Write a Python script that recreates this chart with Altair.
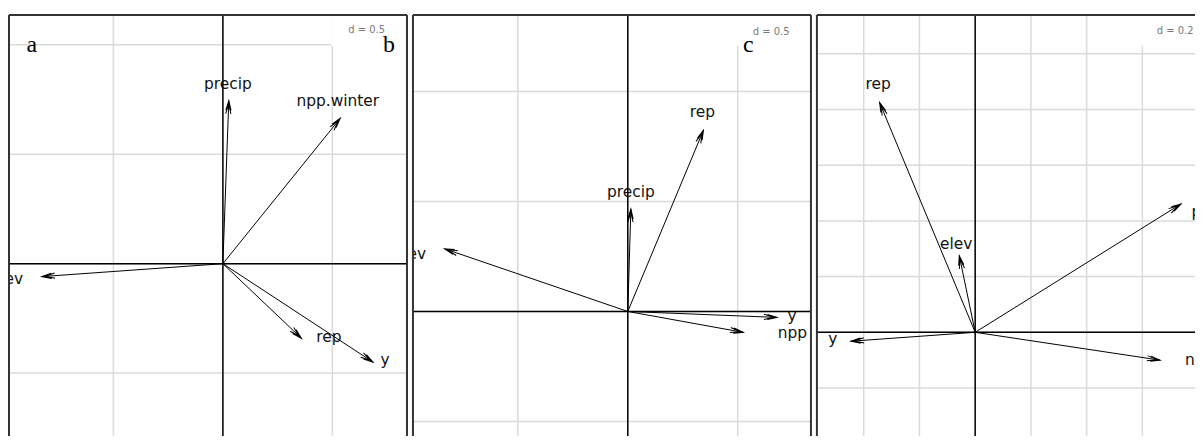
import numpy as np
import pandas as pd
import altair as alt

# ---------------- data ----------------
# Panel a
a_vars = ["precip", "npp.winter", "elev", "rep", "y"]
a_x = [0.027, 0.536, -0.827, 0.359, 0.686]
a_y = [0.745, 0.664, -0.059, -0.341, -0.450]
a_lx = [0.023, 0.525, -0.986, 0.484, 0.741]
a_ly = [0.823, 0.741, -0.068, -0.336, -0.441]

# Panel b
b_vars = ["rep", "precip", "elev", "y", "npp"]
b_x = [0.344, 0.014, -0.833, 0.679, 0.525]
b_y = [0.824, 0.466, 0.285, -0.027, -0.095]
b_lx = [0.339, 0.014, -0.991, 0.747, 0.749]
b_ly = [0.909, 0.543, 0.262, -0.023, -0.100]

# Panel c
c_vars = ["rep", "elev", "precip", "y", "npp"]
c_x = [-0.343, -0.057, 0.739, -0.446, 0.664]
c_y = [0.825, 0.275, 0.461, -0.032, -0.100]
c_lx = [-0.348, -0.068, 0.862, -0.511, 0.806]
c_ly = [0.893, 0.318, 0.432, -0.025, -0.100]

# grid scale labels
d_labels = ["d = 0.5", "d = 0.5", "d = 0.2"]
grid_x = [[-0.5, 0.0, 0.5], [-0.5, 0.0, 0.5], [-0.4, -0.2, 0.0, 0.2, 0.4, 0.6]]
grid_y = [[-0.5, 0.0, 0.5, 1.0], [-0.5, 0.0, 0.5, 1.0], [-0.2, 0.0, 0.2, 0.4, 0.6, 0.8, 1.0]]

# plot windows (data units); bottom (and right of c) run past the visible page
x_domains = [[-0.977, 0.841], [-0.977, 0.833], [-0.568, 0.789]]
y_domains = [[-0.787, 1.136], [-0.566, 1.348], [-0.372, 1.139]]
panel_widths = [400, 400, 380]
right_frame = [True, True, False]

# annotation anchors (data units)
d_pos = [(0.657, 1.068), (0.652, 1.273), (0.718, 1.082)]
box_corner = [(0.495, 0.995), (0.495, 1.208), (0.59, 1.029)]
letters = [[("a", -0.873, 0.968), ("b", 0.759, 0.968)], [("c", 0.548, 1.181)], []]

HEAD = "M -0.27 1 L 0 0 L 0.27 1 M -0.27 1.35 L 0 0.35 L 0.27 1.35"
GRID = "#dadada"
FRAME = "#333333"


def make_panel(names, xs, ys, lxs, lys, i):
    xsc = alt.Scale(domain=x_domains[i], nice=False, zero=False)
    ysc = alt.Scale(domain=y_domains[i], nice=False, zero=False)

    def X(f):
        return alt.X(f, type="quantitative", scale=xsc, axis=None)

    def Y(f):
        return alt.Y(f, type="quantitative", scale=ysc, axis=None)

    arrows = pd.DataFrame({"name": names, "x": xs, "y": ys, "lx": lxs, "ly": lys})
    arrows["x0"] = 0.0
    arrows["y0"] = 0.0
    arrows["angle"] = (np.degrees(np.arctan2(arrows["x"], arrows["y"])) + 360) % 360

    gx = alt.Chart(pd.DataFrame({"g": grid_x[i]})).mark_rule(
        color=GRID, strokeWidth=1.5).encode(x=X("g"))
    gy = alt.Chart(pd.DataFrame({"g": grid_y[i]})).mark_rule(
        color=GRID, strokeWidth=1.5).encode(y=Y("g"))

    bx, by = box_corner[i]
    boxdf = pd.DataFrame({"x1": [bx], "x2": [x_domains[i][1]],
                          "y1": [by], "y2": [y_domains[i][1]]})
    rect = alt.Chart(boxdf).mark_rect(color="white", opacity=1).encode(
        x=X("x1"), x2="x2", y=Y("y1"), y2="y2")

    dx_, dy_ = d_pos[i]
    dtext = alt.Chart(pd.DataFrame({"t": [d_labels[i]], "x": [dx_], "y": [dy_]})).mark_text(
        font="DejaVu Sans", fontSize=10, color="#7a7a7a", baseline="middle", align="center"
    ).encode(x=X("x"), y=Y("y"), text="t:N")

    orig = pd.DataFrame({"o": [0.0]})
    ax_v = alt.Chart(orig).mark_rule(color="black", strokeWidth=1.5).encode(x=X("o"))
    ax_h = alt.Chart(orig).mark_rule(color="black", strokeWidth=1.5).encode(y=Y("o"))

    # frame: left, top (and right when it is on the page)
    fx_vals = [x_domains[i][0]] + ([x_domains[i][1]] if right_frame[i] else [])
    frame_v = alt.Chart(pd.DataFrame({"f": fx_vals})).mark_rule(
        color=FRAME, strokeWidth=2).encode(x=X("f"))
    frame_h = alt.Chart(pd.DataFrame({"f": [y_domains[i][1]]})).mark_rule(
        color=FRAME, strokeWidth=2).encode(y=Y("f"))

    shafts = alt.Chart(arrows).mark_rule(color="black", strokeWidth=1).encode(
        x=X("x0"), y=Y("y0"), x2="x", y2="y")
    heads = alt.Chart(arrows).mark_point(
        shape=HEAD, filled=False, color="black", strokeWidth=1, size=380, opacity=1
    ).encode(x=X("x"), y=Y("y"), angle=alt.Angle("angle:Q", scale=None))
    labels = alt.Chart(arrows).mark_text(
        font="DejaVu Sans", fontSize=15.5, color="#111111", baseline="middle",
        align="center", clip=True
    ).encode(x=X("lx"), y=Y("ly"), text="name:N")

    layers = [gx, gy, rect, dtext, ax_v, ax_h, shafts, heads, labels, frame_v, frame_h]
    if letters[i]:
        ldf = pd.DataFrame({"t": [l[0] for l in letters[i]],
                            "x": [l[1] for l in letters[i]],
                            "y": [l[2] for l in letters[i]]})
        lt = alt.Chart(ldf).mark_text(
            font="Liberation Serif", fontSize=24, color="black",
            baseline="alphabetic", align="center"
        ).encode(x=X("x"), y=Y("y"), text="t:N")
        layers.append(lt)
    return alt.layer(*layers).properties(width=panel_widths[i], height=423)


pa = make_panel(a_vars, a_x, a_y, a_lx, a_ly, 0)
pb = make_panel(b_vars, b_x, b_y, b_lx, b_ly, 1)
pc = make_panel(c_vars, c_x, c_y, c_lx, c_ly, 2)

chart = alt.hconcat(pa, pb, pc, spacing=4).properties(
    padding={"left": 0, "top": 5, "right": 0, "bottom": 0}
).configure_view(stroke=None)

chart.save("out.html", embed_options={"renderer": "svg", "actions": False})
